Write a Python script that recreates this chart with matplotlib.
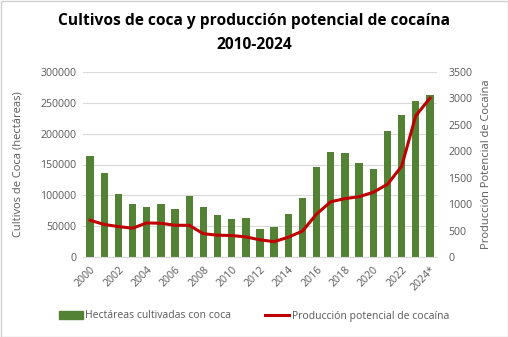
import matplotlib
matplotlib.use('Agg')
import matplotlib.pyplot as plt
from matplotlib.patches import Rectangle
from matplotlib.lines import Line2D
from matplotlib.patches import Patch

years = [str(y) for y in range(2000, 2024)] + ['2024*']
hectareas = [163000, 137000, 102000, 86000, 81000, 86000, 78000, 99000, 81000, 68000,
             61000, 63000, 46000, 48500, 69000, 95000, 146500, 171000, 169000, 153000,
             143500, 204000, 230000, 253000, 262500]
produccion = [695, 615, 575, 545, 645, 638, 600, 600, 440, 413,
              406, 380, 325, 290, 375, 490, 815, 1045, 1105, 1140,
              1225, 1375, 1715, 2670, 3005]

plt.rcParams['font.family'] = ['Open Sans', 'DejaVu Sans']
green = '#548235'
red = '#C00000'
grey_txt = '#595959'

W, H = 508, 337
fig = plt.figure(figsize=(W / 100, H / 100), dpi=100)
fig.patches.append(Rectangle((0.5 / W, 0.5 / H), 1 - 1 / W, 1 - 1 / H, transform=fig.transFigure,
                             fill=False, edgecolor='#D0D0D0', linewidth=1))

ax = fig.add_axes([83 / W, 1 - 257 / H, (437 - 83) / W, (257 - 72) / H])
x = list(range(len(years)))
ax.bar(x, hectareas, width=0.52, color=green, zorder=2)
ax.set_xlim(-0.5, len(years) - 0.5)
ax.set_ylim(0, 300000)
ax.set_yticks(range(0, 300001, 50000))
ax.grid(axis='y', color='#D9D9D9', linewidth=0.8, zorder=0)
ax.set_axisbelow(True)
for s in ['top', 'right', 'left']:
    ax.spines[s].set_visible(False)
ax.spines['bottom'].set_color('#D9D9D9')
ax.tick_params(axis='both', length=0, labelsize=7.6, colors=grey_txt, pad=5)
ax.set_xticks(x[::2])
ax.set_xticklabels(years[::2], rotation=45, ha='right', rotation_mode='anchor')
ax.set_ylabel('Cultivos de Coca (hectáreas)', fontsize=8, color=grey_txt, labelpad=12)

ax2 = ax.twinx()
ax2.plot(x, produccion, color=red, linewidth=2.2, zorder=3)
ax2.set_ylim(0, 3500)
ax2.set_yticks(range(0, 3501, 500))
for s in ['top', 'right', 'left', 'bottom']:
    ax2.spines[s].set_visible(False)
ax2.tick_params(axis='y', length=0, labelsize=7.6, colors=grey_txt, pad=8)
ax2.set_ylabel('Producción Potencial de Cocaína', fontsize=8, color=grey_txt, labelpad=6)

fig.text(0.5, 1 - 33 / H, 'Cultivos de coca y producción potencial de cocaína\n2010-2024',
         ha='center', va='center', fontsize=11.2, fontweight='bold', linespacing=1.6)

handles = [Patch(color=green), Line2D([0], [0], color=red, linewidth=2.2)]
fig.legend(handles, ['Hectáreas cultivadas con coca', 'Producción potencial de cocaína'],
           loc='center', bbox_to_anchor=(0.5, 1 - 316 / H), ncol=2, frameon=False,
           fontsize=7.5, handlelength=2.3, handletextpad=0.2, columnspacing=3.3,
           labelcolor=grey_txt)

fig.savefig('out.png', dpi=100)
